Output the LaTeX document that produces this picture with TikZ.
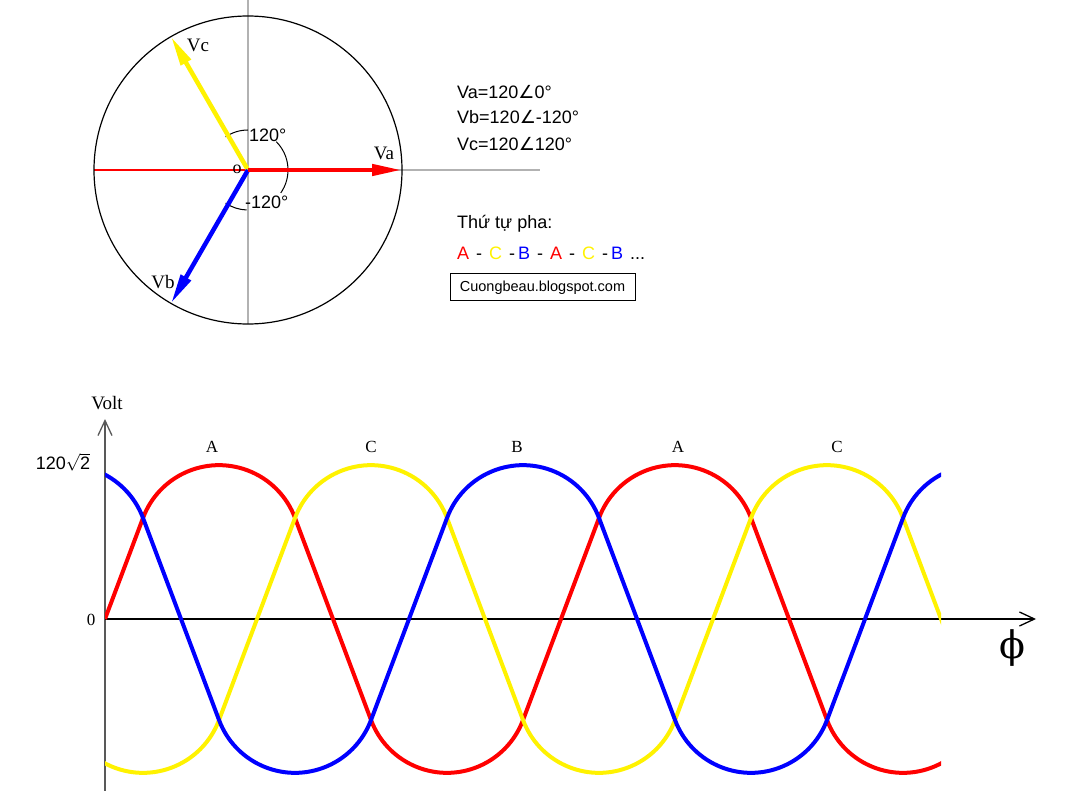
\documentclass[tikz,border=0pt]{standalone}
\usepackage{fontspec}
\setmainfont{Liberation Serif}
\newfontfamily\sans{Liberation Sans}
\newfontfamily\symb{DejaVu Sans}
\newfontfamily\phifont{DejaVu Serif}
\usetikzlibrary{arrows.meta}

\begin{document}
\begin{tikzpicture}[
	x=1pt, y=-1pt,
	axisline/.style={black!30, line width=1.5pt},
	phasor/.style={% thick phasor arrows
		line width=4.5pt,
		-{Triangle[length=30pt,width=11pt]},
	},
	wave/.style={line width=4pt},
	angarc/.style={line width=1pt},
	lbl/.style={font=\fontsize{19}{22}\selectfont, inner sep=0pt},
	txt/.style={font=\sans\fontsize{18}{21}\selectfont, inner sep=0pt, anchor=west},
	barb/.style={% open arrows of the axes
		-{Straight Barb[length=15pt,width=14pt]},
		line width=1.3pt,
	},
]
\useasboundingbox (0,0) rectangle (1067,791);

% phasor diagram
\begin{scope}[shift={(248,170)}, y=1pt]
\coordinate (O) at (0,0);
\coordinate (Va) at (0:154);
\coordinate (Vb) at (-120:154);
\coordinate (Vc) at (120:154);
\coordinate (top) at (0,170);
\coordinate (bot) at (0,-154);
\coordinate (left) at (180:154);
\coordinate (right) at (292,0);

\draw[axisline] (top) -- (bot);
\draw[axisline] (O) -- (right);
\draw[red, line width=1.2pt] (left) -- (O);
\draw[line width=1.2pt] (O) circle[radius=154];

\draw[angarc] (90:40) arc[start angle=90, end angle=124, radius=40];
\draw[angarc] (45:40) arc[start angle=45, end angle=-35, radius=40];
\draw[angarc] (-92:40) arc[start angle=-92, end angle=-124, radius=40];

\draw[phasor, yellow] (O) -- (Vc);
\draw[phasor, blue] (O) -- (Vb);
\draw[phasor, red] (O) -- (Va);

\node[lbl] (vaL) at (136,17) {Va};
\node[lbl] (vbL) at (-85,-112) {Vb};
\node[lbl] (vcL) at (-50,125) {Vc};
\node[lbl, font=\fontsize{18}{20}\selectfont] (oL) at (-11,1) {o};
\node[txt] (a1) at (1,35) {120°};
\node[txt] (a2) at (-3,-32) {-120°};
\end{scope}

% equations and phase order
\node[txt] (eqa) at (457,92) {Va=120{\symb ∠}0°};
\node[txt] (eqb) at (457,117) {Vb=120{\symb ∠}-120°};
\node[txt] (eqc) at (457,144) {Vc=120{\symb ∠}120°};
\node[txt] (order) at (457,224) {Thứ tự pha:};
\node[txt] (seq) at (457,253) {\spaceskip=7pt \textcolor{red}{A} - \textcolor{yellow}{C} -\,\textcolor{blue}{B} - \textcolor{red}{A} - \textcolor{yellow}{C} -\,\textcolor{blue}{B} ...};
\node[draw, line width=1pt, minimum width=185pt, minimum height=27pt, inner sep=0pt,
	font=\sans\fontsize{14.5}{17}\selectfont] (blog) at (542.5,287.5) {Cuongbeau.blogspot.com};

% axes of the waveform
\coordinate (y0) at (105,791);
\coordinate (y1) at (105,419);
\coordinate (x0) at (105,619);
\coordinate (x1) at (1036,619);
\draw[barb, black!65] (y0) -- (y1);
\draw[barb] (x0) -- (x1);

% waveforms
\begin{scope}[shift={(105,619)}, y=1pt]
\clip (0,-170) rectangle (836,170);
\foreach \s/\c in {0/red, 456/red, -304/yellow, 152/yellow, 608/yellow, -152/blue, 304/blue, 760/blue}
	\draw[wave, \c] (\s,0) -- ++(38,101)
		arc[start angle=159.6, end angle=20.4, radius=81.1] -- ++(76,-202)
		arc[start angle=-159.6, end angle=-20.4, radius=81.1] -- ++(38,101);
\end{scope}

\node[lbl] (volt) at (107,403) {Volt};
\node[lbl, font=\sans\fontsize{18}{21}\selectfont] (vmax) at (63,462) {120$\sqrt{\mbox{2}}$};
\node[lbl, font=\fontsize{17}{20}\selectfont] (zero) at (91,620) {0};
\node[lbl, font=\phifont\fontsize{38}{42}\selectfont] (phi) at (1012,648) {ϕ};

\node[lbl, font=\fontsize{17}{20}\selectfont] (pA1) at (212,447) {A};
\node[lbl, font=\fontsize{17}{20}\selectfont] (pC1) at (371,447) {C};
\node[lbl, font=\fontsize{17}{20}\selectfont] (pB1) at (517,447) {B};
\node[lbl, font=\fontsize{17}{20}\selectfont] (pA2) at (678,447) {A};
\node[lbl, font=\fontsize{17}{20}\selectfont] (pC2) at (837,447) {C};

\end{tikzpicture}
\end{document}
